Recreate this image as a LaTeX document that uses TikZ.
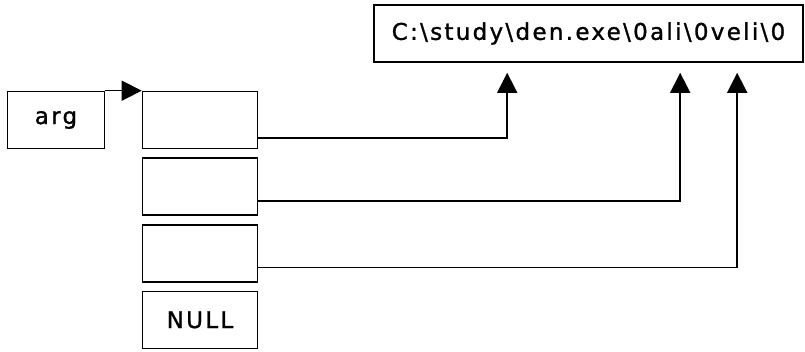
\documentclass[tikz,border=0pt]{standalone}
\usepackage{fontspec}
\setmainfont{DejaVu Sans}[LetterSpace=10,FakeBold=1.2]
\usetikzlibrary{positioning,arrows.meta}
\tikzset{
    cell/.style={draw, line width=1.6pt, minimum width=115pt, minimum height=57pt, inner sep=0pt, font=\fontsize{23}{27}\selectfont},
    pointer/.style={line width=1.6pt, -{Triangle[length=20pt,width=20pt]}},
}

\begin{document}
\begin{tikzpicture}[x=1pt,y=1pt]
    \useasboundingbox (0,0) rectangle (805,351);
    \node[cell, minimum width=97pt] (arg) at (56,231) {arg};
    \node[cell] (c1) at (200,231) {};
    \node[cell, below=8pt of c1] (c2) {};
    \node[cell, below=8pt of c2] (c3) {};
    \node[cell, below=8pt of c3] (null) {NULL};
    \node[cell, minimum width=429pt] (str) at (588.5,317.5) {C:\textbackslash study\textbackslash den.exe\textbackslash 0ali\textbackslash 0veli\textbackslash 0};
    \coordinate (t1) at ([xshift=134pt,yshift=-10pt]str.south west);
    \coordinate (t2) at ([xshift=307pt,yshift=-10pt]str.south west);
    \coordinate (t3) at ([xshift=364pt,yshift=-10pt]str.south west);
    \draw[pointer] (arg.north east) -- (c1.north west);
    \draw[pointer] ([yshift=11pt]c1.south east) -| (t1);
    \draw[pointer] ([yshift=15pt]c2.south east) -| (t2);
    \draw[pointer] ([yshift=15pt]c3.south east) -| (t3);
\end{tikzpicture}
\end{document}
